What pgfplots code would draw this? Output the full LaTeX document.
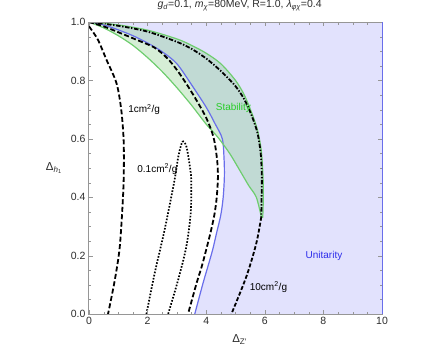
\documentclass[border=0pt]{standalone}
\usepackage{fontspec}
\setmainfont{Liberation Sans}
\usepackage{pgfplots}
\pgfplotsset{compat=1.18}

\definecolor{unibl}{RGB}{105,110,235}
\definecolor{unifill}{RGB}{226,226,253}
\definecolor{stabgr}{RGB}{110,205,110}
\definecolor{stabfill}{RGB}{120,200,120}
\definecolor{txtgray}{RGB}{45,45,45}
\definecolor{framegray}{RGB}{150,150,150}

\begin{document}
\begin{tikzpicture}
\useasboundingbox (-89pt,-35pt) rectangle (347pt,314pt);
\begin{axis}[
    scale only axis,
    width=293pt, height=292pt,
    xmin=0, xmax=10, ymin=0, ymax=1,
    xtick={0,2,...,10},
    ytick={0,0.2,...,1.0},
    minor x tick num=3,
    minor y tick num=3,
    yticklabel style={/pgf/number format/.cd, fixed, fixed zerofill, precision=1},
    /pgf/number format/assume math mode=true,
    tick label style={font=\fontsize{10.5}{12}\selectfont, text=txtgray},
    axis line style={framegray},
    x axis line style={unibl, line width=1pt},
    tick style={framegray},
    major tick length=4pt,
    minor tick length=2.5pt,
    xlabel={Δ\textsubscript{Z′}},
    ylabel={Δ\textsubscript{\textit{h}\textsubscript{1}}},
    xlabel style={at={(axis description cs:0.514,-0.088)}, anchor=center, font=\fontsize{11.5}{13}\selectfont, text=txtgray},
    ylabel style={at={(axis description cs:-0.119,0.5)}, rotate=-90, anchor=center, font=\fontsize{11.5}{13}\selectfont, text=txtgray},
    title={\textit{g}\textsubscript{\textit{d}}=0.1, \textit{m}\textsubscript{\textit{χ}}=80MeV, R=1.0, \textit{λ}\textsubscript{\textit{φχ}}=0.4},
    title style={at={(axis description cs:0.514,1.0)}, anchor=base, yshift=8pt, font=\fontsize{10.5}{12}\selectfont, text=txtgray},
    axis on top,
    clip=true,
]
% unitarity region
\addplot[fill=unifill, draw=none] coordinates {
    (0,1) (0.5,0.99) (1.0,0.973) (1.5,0.953) (2.0,0.928) (2.5,0.898)
    (3.0,0.857) (3.5,0.785) (4.0,0.708) (4.3,0.652) (4.55,0.60)
    (4.61,0.53) (4.62,0.47) (4.58,0.40) (4.5,0.34) (4.36,0.28)
    (4.22,0.22) (4.05,0.16) (3.89,0.105) (3.61,0) (10,0) (10,1)
} -- cycle;
% stability region
\addplot[fill=stabfill, fill opacity=0.3, draw=none] coordinates {
    (0,1) (1,0.99) (2,0.972) (3,0.942) (3.5,0.92) (4,0.893) (4.5,0.857)
    (5,0.80) (5.3,0.75) (5.55,0.69) (5.75,0.63) (5.88,0.56) (5.94,0.47)
    (5.95,0.40) (5.93,0.33)
    (5.88,0.333) (5.71,0.40) (5.45,0.44) (5.14,0.493) (4.8,0.55)
    (4.4,0.605) (4.0,0.65) (3.5,0.715) (3.0,0.775) (2.5,0.83)
    (2.0,0.878) (1.5,0.92) (1.0,0.953) (0.5,0.98)
} -- cycle;
% unitarity boundary
\addplot[unibl, line width=1.2pt, smooth, tension=0.5] coordinates {
    (0,1) (0.5,0.99) (1.0,0.973) (1.5,0.953) (2.0,0.928) (2.5,0.898)
    (3.0,0.857) (3.5,0.785) (4.0,0.708) (4.3,0.652) (4.55,0.60)
    (4.61,0.53) (4.62,0.47) (4.58,0.40) (4.5,0.34) (4.36,0.28)
    (4.22,0.22) (4.05,0.16) (3.89,0.105) (3.61,0)
};
% stability boundaries
\addplot[stabgr, line width=1.2pt, smooth, tension=0.5] coordinates {
    (0,1) (1,0.99) (2,0.972) (3,0.942) (3.5,0.92) (4,0.893) (4.5,0.857)
    (5,0.80) (5.3,0.75) (5.55,0.69) (5.75,0.63) (5.88,0.56) (5.94,0.47)
    (5.95,0.40) (5.93,0.33)
};
\addplot[stabgr, line width=1.2pt, smooth, tension=0.5] coordinates {
    (0,1) (0.5,0.98) (1.0,0.953) (1.5,0.92) (2.0,0.878) (2.5,0.83)
    (3.0,0.775) (3.5,0.715) (4.0,0.65) (4.4,0.605) (4.8,0.55)
    (5.14,0.493) (5.45,0.44) (5.71,0.40) (5.88,0.333)
};
\addplot[stabgr, line width=1.2pt] coordinates {(5.88,0.333) (5.93,0.33)};
% 1 cm2/g, left branch
\addplot[black, line width=1.8pt, dash pattern=on 5pt off 2.5pt, smooth, tension=0.5] coordinates {
    (0,0.985) (0.3,0.94) (0.6,0.87) (0.94,0.79) (1.1,0.70) (1.18,0.6)
    (1.19,0.5) (1.16,0.4) (1.05,0.23) (0.88,0.116) (0.65,0)
};
% 1 cm2/g, right branch
\addplot[black, line width=1.8pt, dash pattern=on 5pt off 2.5pt, smooth, tension=0.5] coordinates {
    (0,1) (0.5,0.985) (1.0,0.965) (1.6,0.94) (2.24,0.912) (2.7,0.873)
    (3.1,0.822) (3.55,0.752) (4.0,0.672) (4.25,0.605) (4.37,0.53)
    (4.40,0.47) (4.36,0.40) (4.28,0.34) (4.15,0.28) (4.0,0.22)
    (3.84,0.16) (3.67,0.105) (3.38,0)
};
% 0.1 cm2/g
\addplot[black, line width=1.7pt, dash pattern=on 1.6pt off 1.6pt, smooth, tension=0.5] coordinates {
    (1.96,0) (2.24,0.139) (2.58,0.288) (2.92,0.459) (3.05,0.54)
    (3.19,0.59) (3.32,0.575) (3.42,0.52) (3.49,0.459) (3.47,0.345)
    (3.32,0.23) (3.04,0.116) (2.70,0)
};
% 10 cm2/g
\addplot[black, line width=1.8pt, dash pattern=on 4.5pt off 1.6pt on 1.4pt off 1.6pt, smooth, tension=0.5] coordinates {
    (0,1) (1,0.987) (2,0.967) (3,0.932) (3.5,0.908) (4,0.875) (4.5,0.832)
    (5,0.78) (5.3,0.735) (5.55,0.68) (5.75,0.62) (5.86,0.55) (5.9,0.47)
    (5.89,0.40) (5.88,0.333)
};
\addplot[black, line width=1.8pt, dash pattern=on 4pt off 2pt, smooth, tension=0.5] coordinates {
    (5.88,0.333) (5.71,0.242) (5.37,0.128) (4.86,0)
};
% labels
\node[anchor=west, font=\fontsize{10}{11}\selectfont] at (axis cs:1.22,0.70) {1cm\textsuperscript{2}/g};
\node[anchor=west, font=\fontsize{10}{11}\selectfont] at (axis cs:1.53,0.497) {0.1cm\textsuperscript{2}/g};
\node[anchor=west, font=\fontsize{10}{11}\selectfont] at (axis cs:5.37,0.093) {10cm\textsuperscript{2}/g};
\node[anchor=west, text={rgb,255:red,40;green,205;blue,40}, font=\fontsize{10}{11}\selectfont] at (axis cs:4.21,0.705) {Stability};
\node[text={rgb,255:red,45;green,45;blue,235}, font=\fontsize{10}{11}\selectfont] at (axis cs:8.02,0.199) {Unitarity};
\end{axis}
\draw[unibl, line width=1pt] (current axis.south east) -- (current axis.north east);
\end{tikzpicture}
\end{document}
